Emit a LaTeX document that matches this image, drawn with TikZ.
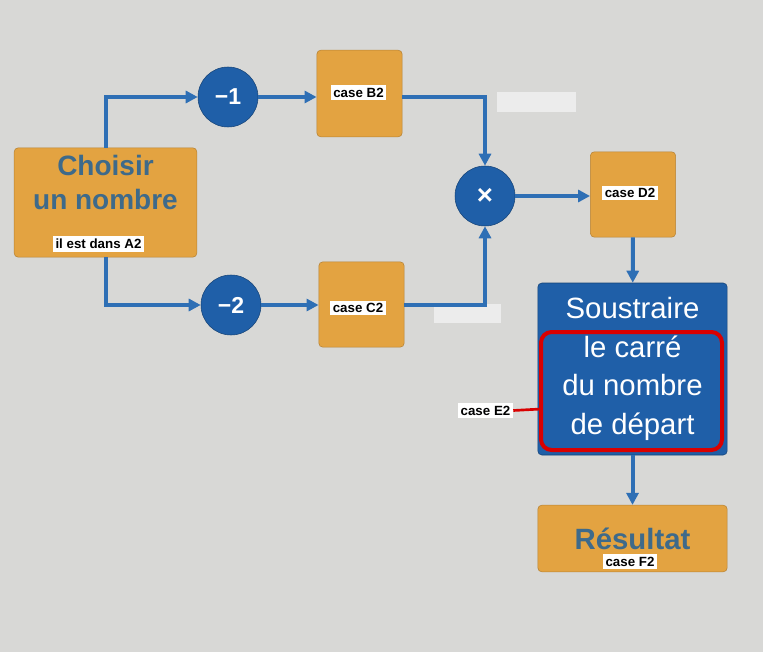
\documentclass[tikz,border=0pt]{standalone}
\usepackage{fontspec}
\setmainfont{Liberation Sans}
\usetikzlibrary{arrows.meta}
\definecolor{bg}{HTML}{D8D8D6}
\definecolor{org}{HTML}{E3A341}
\definecolor{bl}{HTML}{1F5FA8}
\definecolor{ln}{HTML}{2E6FB5}
\definecolor{tx}{HTML}{3E6A8A}
\begin{document}
\begin{tikzpicture}[x=0.75pt,y=-0.75pt,
  obox/.style={draw=org!80!black,fill=org,rounded corners=3pt,inner sep=0pt},
  circ/.style={circle,fill=bl,draw=bl!70!black,minimum size=45pt,inner sep=0pt,text=white,font=\bfseries\LARGE},
  lab/.style={fill=white,inner sep=2pt,font=\bfseries\normalsize},
  conn/.style={ln,line width=3pt,-{Triangle[length=9pt,width=9pt]}},
  lnk/.style={ln,line width=3pt}]
\fill[bg] (0,0) rectangle (763,652);
\useasboundingbox (0,0) rectangle (763,652);
\fill[gray!15] (497,92) rectangle (576,112);
\fill[gray!15] (434,304) rectangle (501,323);
% boxes
\node[obox,minimum width=137pt,minimum height=82pt,align=center,text=tx,font=\bfseries\fontsize{21}{26}\selectfont] (A) at (105.5,202.5) {Choisir\\un nombre\\[4pt]};
\node[obox,minimum width=64pt,minimum height=65pt] (B) at (359.5,93.5) {};
\node[obox,minimum width=64pt,minimum height=64pt] (C) at (361.5,304.5) {};
\node[obox,minimum width=64pt,minimum height=64pt] (D) at (633,194.5) {};
\node[fill=bl,draw=bl!70!black,rounded corners=3pt,minimum width=142pt,minimum height=129pt,align=center,text=white,font=\fontsize{22}{29}\selectfont,inner sep=0pt] (E) at (632.5,369) {Soustraire\\le carré\\du nombre\\de départ};
\draw[red!85!black,line width=3pt,rounded corners=8pt] (541,332) rectangle (722,450);
\node[obox,minimum width=142pt,minimum height=50pt,text=tx,font=\bfseries\fontsize{22}{24}\selectfont] (F) at (632.5,538.5) {Résultat\\[6pt]};
% circles
\node[circ] (m1) at (228,97) {−1};
\node[circ] (m2) at (231,305) {−2};
\node[circ,font=\bfseries\huge] (x) at (485,196) {×};
% connectors
\draw[conn] (A.north) |- (m1.west);
\draw[conn] (m1.east) -- (m1.east -| B.west);
\draw[conn] (B.east |- m1.east) -| (x.north);
\draw[conn] (A.south) |- (m2.west);
\draw[conn] (m2.east) -- (m2.east -| C.west);
\draw[conn] (C.east |- m2.east) -| (x.south);
\draw[conn] (x.east) -- (x.east -| D.west);
\draw[conn] (D) -- (E);
\draw[conn] (E) -- (F);
% labels
\node[lab] (la) at (98.5,244) {il est dans A2};
\node[lab] (lb) at (358.5,92.5) {case B2};
\node[lab] (lc) at (358,308) {case C2};
\node[lab] (ld) at (630,193) {case D2};
\node[lab] (le) at (485.5,410.5) {case E2};
\node[lab] (lf) at (630,561.5) {case F2};
\coordinate (ee) at (541,409);
\draw[red!85!black,line width=2pt] (le.east) -- (ee);
\end{tikzpicture}
\end{document}
